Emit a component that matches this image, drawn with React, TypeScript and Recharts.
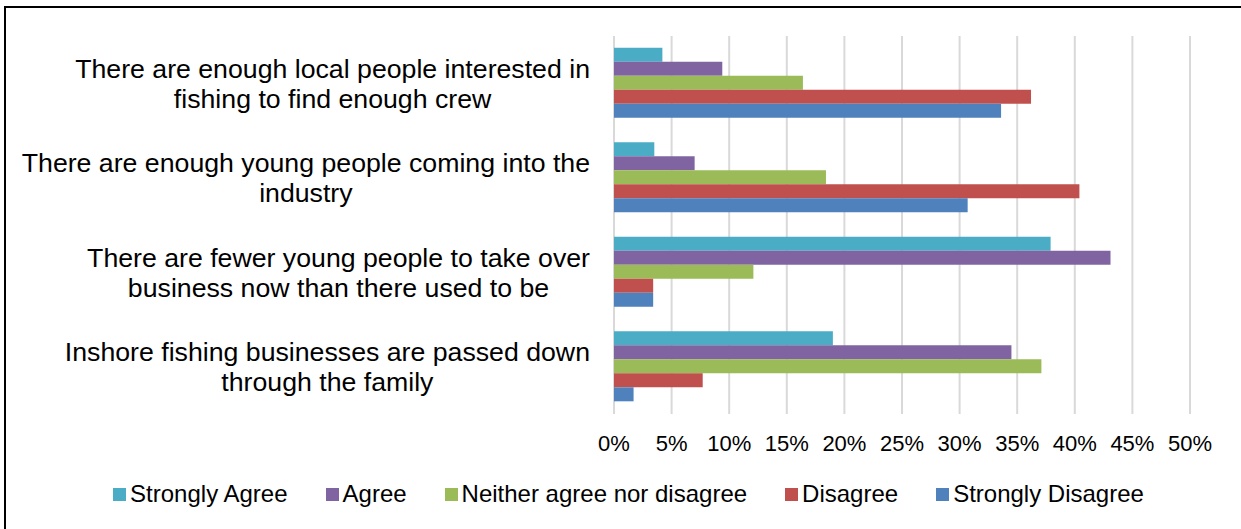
import React from "react";
import {
  BarChart,
  Bar,
  XAxis,
  YAxis,
  CartesianGrid,
  Legend,
} from "recharts";

const categories = [
  "There are enough local people interested in\nfishing to find enough crew",
  "There are enough young people coming into the\nindustry",
  "There are fewer young people to take over\nbusiness now than there used to be",
  "Inshore fishing businesses are passed down\nthrough the family",
];

const seriesNames = [
  "Strongly Agree",
  "Agree",
  "Neither agree nor disagree",
  "Disagree",
  "Strongly Disagree",
];

const seriesColors = ["#4BACC6", "#8064A2", "#9BBB59", "#C0504D", "#4F81BD"];

// percent values per category, same order as categories
const stronglyAgree = [4.2, 3.5, 37.9, 19.0];
const agree = [9.4, 7.0, 43.1, 34.5];
const neither = [16.4, 18.4, 12.1, 37.1];
const disagree = [36.2, 40.4, 3.4, 7.7];
const stronglyDisagree = [33.6, 30.7, 3.4, 1.7];

const xTicks = [0, 5, 10, 15, 20, 25, 30, 35, 40, 45, 50];

const seriesValues = [stronglyAgree, agree, neither, disagree, stronglyDisagree];

const data = categories.map((name, i) => {
  const row: Record<string, string | number> = { name };
  seriesNames.forEach((s, j) => {
    row[s] = seriesValues[j][i];
  });
  return row;
});

const FONT = "'Liberation Sans', Arial, sans-serif";
const LABEL_SIZE = 26.7;
const TICK_SIZE = 22;
const LEGEND_SIZE = 24;
const LINE_H = 30;

let ctx: CanvasRenderingContext2D | null = null;
const measure = (s: string) => {
  if (!ctx) ctx = document.createElement("canvas").getContext("2d");
  if (!ctx) return s.length * 13;
  ctx.font = `${LABEL_SIZE}px ${FONT}`;
  return ctx.measureText(s).width;
};

const CategoryTick = ({ x, y, payload }: any) => {
  const lines = String(payload.value).split("\n");
  const maxW = Math.max(...lines.map(measure));
  const cx = x - maxW / 2;
  return (
    <text
      textAnchor="middle"
      fontSize={LABEL_SIZE}
      fontFamily={FONT}
      fill="#000"
    >
      {lines.map((l, i) => (
        <tspan
          key={i}
          x={cx}
          y={y + (i - (lines.length - 1) / 2) * LINE_H}
          dy="0.35em"
        >
          {l}
        </tspan>
      ))}
    </text>
  );
};

const LegendContent = () => (
  <div
    style={{
      display: "flex",
      justifyContent: "center",
      alignItems: "center",
      height: 40,
      paddingLeft: 53,
      fontFamily: FONT,
      fontSize: LEGEND_SIZE,
      color: "#000",
    }}
  >
    {seriesNames.map((s, i) => (
      <div
        key={s}
        style={{
          display: "flex",
          alignItems: "center",
          marginRight: i < seriesNames.length - 1 ? 38 : 0,
        }}
      >
        <span
          style={{
            width: 13,
            height: 13,
            background: seriesColors[i],
            marginRight: 4,
            display: "inline-block",
          }}
        />
        <span>{s}</span>
      </div>
    ))}
  </div>
);

export default function App() {
  return (
    <div
      style={{
        position: "absolute",
        left: 0,
        top: 0,
        width: 1241,
        height: 529,
        background: "#fff",
      }}
    >
      <div
        style={{
          position: "absolute",
          left: 4,
          top: 6,
          right: 0,
          bottom: 0,
          borderTop: "2px solid #000",
          borderLeft: "2px solid #000",
        }}
      />
      <BarChart
        width={1241}
        height={529}
        data={data}
        layout="vertical"
        margin={{ top: 36, right: 51, bottom: 15, left: 14 }}
        barCategoryGap="12.5%"
        barGap={0}
      >
        <CartesianGrid
          horizontal={false}
          stroke="#D9D9D9"
          strokeWidth={2}
        />
        <XAxis
          type="number"
          domain={[0, 50]}
          ticks={xTicks}
          tickFormatter={(v) => `${v}%`}
          axisLine={false}
          tickLine={false}
          tickSize={0}
          tickMargin={21}
          height={60}
          interval={0}
          tick={{ fontSize: TICK_SIZE, fontFamily: FONT, fill: "#000" }}
        />
        <YAxis
          type="category"
          dataKey="name"
          width={600}
          axisLine={false}
          tickLine={false}
          tickSize={0}
          tickMargin={24}
          interval={0}
          tick={<CategoryTick />}
        />
        <Legend
          verticalAlign="bottom"
          content={<LegendContent />}
          wrapperStyle={{ height: 40 }}
        />
        {seriesNames.map((s, i) => (
          <Bar
            key={s}
            dataKey={s}
            fill={seriesColors[i]}
            isAnimationActive={false}
          />
        ))}
      </BarChart>
    </div>
  );
}
